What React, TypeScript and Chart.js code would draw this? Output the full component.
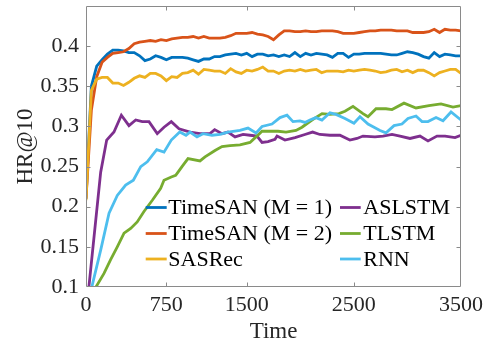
import React, { useEffect, useRef } from "react";
import { Chart, registerables } from "chart.js";

Chart.register(...registerables);

// ---------- data ----------
const timeGrid = [
  0, 50, 100, 150, 200, 250, 300, 350, 400, 450,
  500, 550, 600, 650, 700, 750, 800, 850, 900, 950,
  1000, 1050, 1100, 1150, 1200, 1250, 1300, 1350, 1400, 1450,
  1500, 1550, 1600, 1650, 1700, 1750, 1800, 1850, 1900, 1950,
  2000, 2050, 2100, 2150, 2200, 2250, 2300, 2350, 2400, 2450,
  2500, 2550, 2600, 2650, 2700, 2750, 2800, 2850, 2900, 2950,
  3000, 3050, 3100, 3150, 3200, 3250, 3300, 3350, 3400, 3450, 3500,
];

const timeSAN1 = [
  0.21, 0.35, 0.375, 0.383, 0.39, 0.395, 0.395, 0.394, 0.392, 0.392,
  0.388, 0.382, 0.384, 0.388, 0.386, 0.383, 0.386, 0.386, 0.386, 0.385,
  0.383, 0.381, 0.384, 0.384, 0.387, 0.387, 0.389, 0.39, 0.391, 0.389,
  0.391, 0.387, 0.39, 0.39, 0.388, 0.389, 0.387, 0.389, 0.387, 0.392,
  0.387, 0.391, 0.389, 0.391, 0.39, 0.389, 0.386, 0.391, 0.391, 0.386,
  0.39, 0.39, 0.391, 0.391, 0.391, 0.391, 0.39, 0.389, 0.389, 0.391,
  0.393, 0.392, 0.39, 0.387, 0.385, 0.392, 0.387, 0.39, 0.389, 0.388, 0.388,
];

const timeSAN2 = [
  0.21, 0.32, 0.362, 0.38, 0.386, 0.391, 0.392, 0.393, 0.397, 0.403,
  0.405, 0.406, 0.407, 0.406, 0.408, 0.407, 0.409, 0.41, 0.411, 0.411,
  0.412, 0.41, 0.412, 0.41, 0.41, 0.41, 0.411, 0.413, 0.416, 0.416,
  0.416, 0.417, 0.415, 0.414, 0.412, 0.408, 0.414, 0.419, 0.419, 0.418,
  0.418, 0.419, 0.418, 0.418, 0.419, 0.419, 0.419, 0.418, 0.416, 0.416,
  0.416, 0.417, 0.418, 0.419, 0.419, 0.42, 0.42, 0.42, 0.419, 0.419,
  0.419, 0.417, 0.417, 0.417, 0.418, 0.421, 0.417, 0.421, 0.42, 0.42, 0.419,
];

const sasRec = [
  0.208, 0.345, 0.359, 0.361, 0.361, 0.354, 0.354, 0.351, 0.355, 0.36,
  0.363, 0.361, 0.366, 0.366, 0.363, 0.357, 0.362, 0.361, 0.366, 0.367,
  0.37, 0.365, 0.371, 0.37, 0.369, 0.369, 0.366, 0.372, 0.368, 0.366,
  0.37, 0.369, 0.371, 0.374, 0.369, 0.369, 0.366, 0.369, 0.37, 0.369,
  0.371, 0.369, 0.37, 0.371, 0.367, 0.369, 0.369, 0.369, 0.368, 0.37,
  0.369, 0.37, 0.371, 0.37, 0.369, 0.367, 0.368, 0.37, 0.371, 0.368,
  0.37, 0.367, 0.37, 0.37, 0.367, 0.363, 0.367, 0.369, 0.371, 0.371, 0.366,
];

const aslstmTime = [
  0, 137, 193, 261, 330, 401, 464, 525, 588, 665,
  728, 796, 868, 971, 1064, 1157, 1201, 1269, 1325, 1391,
  1466, 1531, 1596, 1643, 1699, 1764, 1783, 1857, 1951, 2043,
  2115, 2183, 2277, 2370, 2463, 2529, 2585, 2697, 2772, 2856,
  2931, 3024, 3117, 3192, 3276, 3351, 3444, 3500,
];
const aslstm = [
  0.065, 0.243, 0.283, 0.293, 0.314, 0.301, 0.308, 0.306, 0.306, 0.291,
  0.299, 0.306, 0.297, 0.293, 0.291, 0.291, 0.296, 0.291, 0.293, 0.287,
  0.29, 0.289, 0.288, 0.28, 0.281, 0.284, 0.288, 0.283, 0.286, 0.29,
  0.293, 0.29, 0.289, 0.289, 0.283, 0.285, 0.288, 0.287, 0.288, 0.29,
  0.288, 0.285, 0.288, 0.282, 0.288, 0.288, 0.286, 0.289,
];

const tlstmTime = [
  0, 168, 230, 292, 355, 417, 478, 541, 619, 697,
  728, 796, 837, 859, 896, 952, 1064, 1111, 1204, 1269,
  1344, 1437, 1531, 1587, 1643, 1718, 1792, 1867, 1960, 2016,
  2109, 2203, 2277, 2361, 2417, 2492, 2585, 2632, 2707, 2800,
  2856, 2968, 3080, 3201, 3313, 3425, 3500,
];
const tlstm = [
  0.079, 0.117, 0.134, 0.15, 0.167, 0.173, 0.181, 0.194, 0.208, 0.223,
  0.233, 0.237, 0.239, 0.243, 0.25, 0.26, 0.257, 0.262, 0.27, 0.275,
  0.276, 0.277, 0.28, 0.287, 0.294, 0.294, 0.294, 0.293, 0.295, 0.299,
  0.308, 0.316, 0.315, 0.316, 0.319, 0.325, 0.316, 0.312, 0.322, 0.322,
  0.321, 0.329, 0.323, 0.326, 0.328, 0.324, 0.326,
];

const rnnTime = [
  0, 137, 215, 292, 370, 442, 511, 572, 660, 728,
  796, 875, 933, 971, 1036, 1092, 1176, 1251, 1325, 1437,
  1512, 1587, 1643, 1736, 1811, 1876, 1932, 1997, 2044, 2090,
  2146, 2202, 2277, 2333, 2417, 2501, 2557, 2632, 2688, 2744,
  2800, 2875, 2949, 3005, 3080, 3136, 3192, 3267, 3332, 3407, 3500,
];
const rnn = [
  0.07, 0.146, 0.192, 0.214, 0.227, 0.233, 0.25, 0.256, 0.271, 0.268,
  0.283, 0.293, 0.289, 0.293, 0.287, 0.291, 0.289, 0.29, 0.293, 0.295,
  0.298, 0.292, 0.3, 0.303, 0.311, 0.314, 0.306, 0.307, 0.305, 0.308,
  0.311, 0.308, 0.317, 0.315, 0.31, 0.304, 0.312, 0.303, 0.299, 0.295,
  0.292, 0.301, 0.303, 0.31, 0.313, 0.306, 0.306, 0.311, 0.307, 0.318, 0.308,
];

const seriesNames = ["TimeSAN (M = 1)", "TimeSAN (M = 2)", "SASRec", "ASLSTM", "TLSTM", "RNN"];
const seriesColors = ["#0072BD", "#D95319", "#EDB120", "#7E2F8E", "#77AC30", "#4DBEEE"];
const seriesTimes = [timeGrid, timeGrid, timeGrid, aslstmTime, tlstmTime, rnnTime];
const seriesValues = [timeSAN1, timeSAN2, sasRec, aslstm, tlstm, rnn];

const xTicks = [0, 750, 1500, 2500, 3500];
const yTicks = [0.1, 0.15, 0.2, 0.25, 0.3, 0.35, 0.4];
const xTitle = "Time";
const yTitle = "HR@10";

// ---------- styling ----------
const FONT = "'Liberation Serif', 'Times New Roman', serif";
const AXIS_COLOR = "#8a8a8a";
const TEXT_COLOR = "#262626";
const LINE_W = 2.8;

const boxPlugin = {
  id: "matlabBox",
  afterDatasetsDraw(chart: any) {
    const { ctx, chartArea: a, scales } = chart;
    const L = Math.round(a.left) + 0.5;
    const R = Math.round(a.right) - 0.5;
    const T = Math.round(a.top) + 0.5;
    const B = Math.round(a.bottom) - 0.5;
    const tl = 4;
    ctx.save();
    ctx.strokeStyle = AXIS_COLOR;
    ctx.lineWidth = 1;
    ctx.beginPath();
    ctx.rect(L, T, R - L, B - T);
    xTicks.forEach((v) => {
      const px = Math.round(scales.x.getPixelForValue(v)) + 0.5;
      if (px <= L + 1 || px >= R - 1) return;
      ctx.moveTo(px, B);
      ctx.lineTo(px, B - tl);
      ctx.moveTo(px, T);
      ctx.lineTo(px, T + tl);
    });
    yTicks.forEach((v) => {
      const py = Math.round(scales.y.getPixelForValue(v)) + 0.5;
      if (py <= T + 1 || py >= B - 1) return;
      ctx.moveTo(L, py);
      ctx.lineTo(L + tl, py);
      ctx.moveTo(R, py);
      ctx.lineTo(R - tl, py);
    });
    ctx.stroke();
    ctx.restore();
  },
};

const legendPlugin = {
  id: "matlabLegend",
  afterDraw(chart: any) {
    const { ctx, chartArea: a } = chart;
    const cols = [
      { line0: 59.7, line1: 80.7, text: 82.3 },
      { line0: 254, line1: 274.7, text: 277.3 },
    ];
    const rows = [201.5, 227.5, 253];
    ctx.save();
    ctx.font = `22px ${FONT}`;
    ctx.textBaseline = "middle";
    ctx.textAlign = "left";
    seriesNames.forEach((name, i) => {
      const c = cols[Math.floor(i / 3)];
      const y = a.top + rows[i % 3];
      ctx.strokeStyle = seriesColors[i];
      ctx.lineWidth = LINE_W;
      ctx.beginPath();
      ctx.moveTo(a.left + c.line0, y);
      ctx.lineTo(a.left + c.line1, y);
      ctx.stroke();
      ctx.fillStyle = "#000";
      ctx.fillText(name, a.left + c.text, y + 1);
    });
    ctx.restore();
  },
};

export default function App() {
  const canvasRef = useRef<HTMLCanvasElement | null>(null);

  useEffect(() => {
    const canvas = canvasRef.current;
    if (!canvas) return;
    const datasets = seriesNames.map((name, i) => ({
      label: name,
      data: seriesTimes[i].map((t, j) => ({ x: t, y: seriesValues[i][j] })),
      borderColor: seriesColors[i],
      backgroundColor: seriesColors[i],
      borderWidth: LINE_W,
      pointRadius: 0,
      tension: 0,
      fill: false,
      order: seriesNames.length - i,
    }));

    const chart = new Chart(canvas, {
      type: "line",
      data: { datasets },
      options: {
        animation: false,
        responsive: false,
        events: [],
        layout: { padding: { top: 6, right: 29, left: 0, bottom: 0 } },
        plugins: {
          legend: { display: false },
          tooltip: { enabled: false },
        },
        scales: {
          x: {
            type: "linear",
            min: 0,
            max: 3500,
            grid: { display: false, drawTicks: false },
            border: { display: false },
            afterBuildTicks: (axis: any) => {
              axis.ticks = xTicks.map((v) => ({ value: v }));
            },
            afterFit: (axis: any) => {
              axis.height = 58;
              axis.paddingLeft = 0;
              axis.paddingRight = 0;
            },
            ticks: {
              autoSkip: false,
              maxRotation: 0,
              padding: 5,
              color: TEXT_COLOR,
              font: { family: FONT, size: 22 },
              callback: (v: any) => String(v),
            },
            title: {
              display: true,
              text: xTitle,
              color: TEXT_COLOR,
              font: { family: FONT, size: 23, lineHeight: 1 },
              padding: { top: 0, bottom: 1.5 },
            },
          },
          y: {
            type: "linear",
            min: 0.1,
            max: 0.45,
            grid: { display: false, drawTicks: false },
            border: { display: false },
            afterBuildTicks: (axis: any) => {
              axis.ticks = yTicks.map((v) => ({ value: v }));
            },
            afterFit: (axis: any) => {
              axis.width = 86;
              axis.paddingTop = 0;
              axis.paddingBottom = 0;
            },
            ticks: {
              autoSkip: false,
              padding: 7,
              color: TEXT_COLOR,
              font: { family: FONT, size: 22 },
              callback: (v: any) => String(Number(Number(v).toFixed(2))),
            },
            title: {
              display: true,
              text: yTitle,
              color: TEXT_COLOR,
              font: { family: FONT, size: 23, lineHeight: 1 },
              padding: { top: 14, bottom: 0 },
            },
          },
        },
      },
      plugins: [boxPlugin, legendPlugin],
    });
    return () => chart.destroy();
  }, []);

  return (
    <div style={{ position: "fixed", left: 0, top: 0, width: 490, height: 345, background: "#fff" }}>
      <canvas ref={canvasRef} width={490} height={345} style={{ display: "block" }} />
    </div>
  );
}
